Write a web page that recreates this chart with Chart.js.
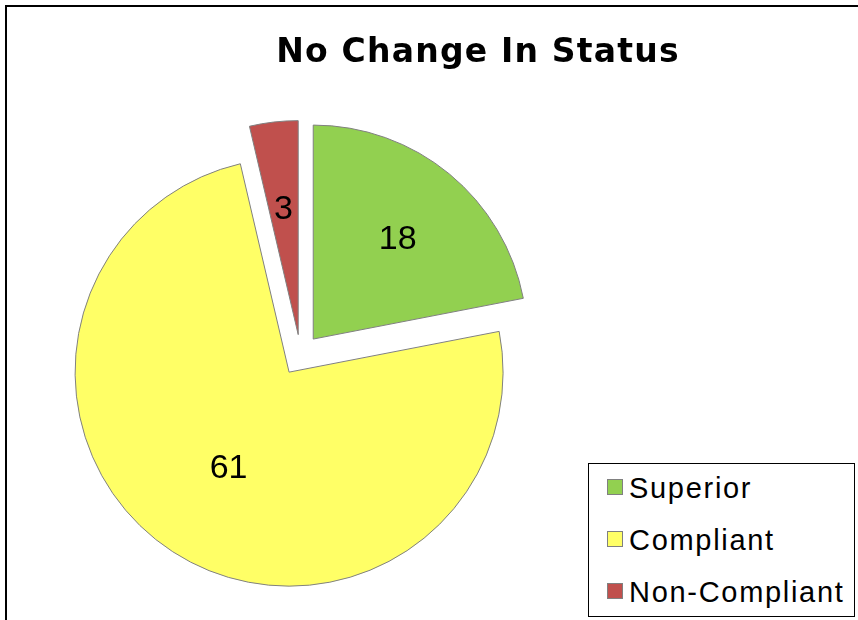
<!DOCTYPE html>
<html>
<head>
<meta charset="utf-8">
<script src="https://cdn.jsdelivr.net/npm/chart.js@4/dist/chart.umd.min.js"></script>
<style>
  html, body { margin: 0; padding: 0; background: #fff; overflow: hidden; }
  #wrap { position: relative; width: 858px; height: 620px; overflow: hidden; }
  #frame { position: absolute; left: 5px; top: 5px; width: 900px; height: 700px;
           border-left: 2px solid #000; border-top: 2px solid #000; }
  #title { position: absolute; left: 0; top: 34px; width: 956px; text-align: center;
           font: bold 33px/33px "DejaVu Sans", sans-serif; letter-spacing: 1.2px; color: #000; white-space: nowrap; }
  #legend { position: absolute; left: 588px; top: 463px; width: 265px; height: 152px;
            border: 1px solid #000; background: #fff; }
  .item { position: absolute; left: 40px; font: 29px/29px "Liberation Sans", Arial, sans-serif;
          letter-spacing: 1.7px; color: #000; white-space: nowrap; }
  .item i { position: absolute; left: -22px; top: 5px; width: 14px; height: 14px; border: 1px solid #808080; }
  canvas { position: absolute; left: 0; top: 0; }
</style>
</head>
<body>
<div id="wrap">
  <div id="frame"></div>
  <canvas id="c" width="858" height="620"></canvas>
  <div id="title">No Change In Status</div>
  <div id="legend"></div>
</div>
<script>
/* ===== Pie: No Change In Status (exploded slices) ===== */
const categories = ["Superior", "Compliant", "Non-Compliant"];
const counts = [18, 61, 3];
const colors = ["#92D050", "#FFFF66", "#C0504D"];

// how far each slice is pulled out, and where its number sits (fraction of radius)
const explode = [20, 21, 20];
const labelAt = [0.62, 0.52, 0.6];

const explodePlugin = {
  id: "explode",
  beforeDatasetsDraw(chart) {
    const ca = chart.chartArea;
    const cx = (ca.left + ca.right) / 2, cy = (ca.top + ca.bottom) / 2;
    chart.getDatasetMeta(0).data.forEach((arc, i) => {
      const mid = (arc.startAngle + arc.endAngle) / 2;
      arc.x = cx + Math.cos(mid) * explode[i];
      arc.y = cy + Math.sin(mid) * explode[i];
    });
  },
};

const valueLabels = {
  id: "valueLabels",
  afterDatasetsDraw(chart) {
    const ctx = chart.ctx, size = 34;
    ctx.save();
    ctx.font = size + 'px "Liberation Sans", Arial, sans-serif';
    ctx.fillStyle = "#000";
    ctx.textAlign = "center";
    ctx.textBaseline = "alphabetic";
    chart.getDatasetMeta(0).data.forEach((arc, i) => {
      const mid = (arc.startAngle + arc.endAngle) / 2;
      const r = arc.outerRadius * labelAt[i];
      ctx.fillText(String(counts[i]), arc.x + Math.cos(mid) * r, arc.y + Math.sin(mid) * r + size * 0.358);
    });
    ctx.restore();
  },
};

new Chart(document.getElementById("c"), {
  type: "pie",
  data: {
    labels: categories,
    datasets: [{
      data: counts,
      backgroundColor: colors,
      borderColor: "#808080",
      borderWidth: 1,
      hoverBorderWidth: 1,
      hoverOffset: 0,
      offset: 0,
    }],
  },
  options: {
    responsive: false,
    animation: false,
    events: [],
    layout: { padding: { left: 86, right: 343, top: 140, bottom: 51 } },
    plugins: { legend: { display: false }, title: { display: false }, tooltip: { enabled: false } },
  },
  plugins: [explodePlugin, valueLabels],
});

// legend box (bottom right)
const legend = document.getElementById("legend");
categories.forEach((name, i) => {
  const el = document.createElement("div");
  el.className = "item";
  el.style.top = (10 + i * 52) + "px";
  el.innerHTML = `<i style="background:${colors[i]}"></i>${name}`;
  legend.appendChild(el);
});
</script>
</body>
</html>
